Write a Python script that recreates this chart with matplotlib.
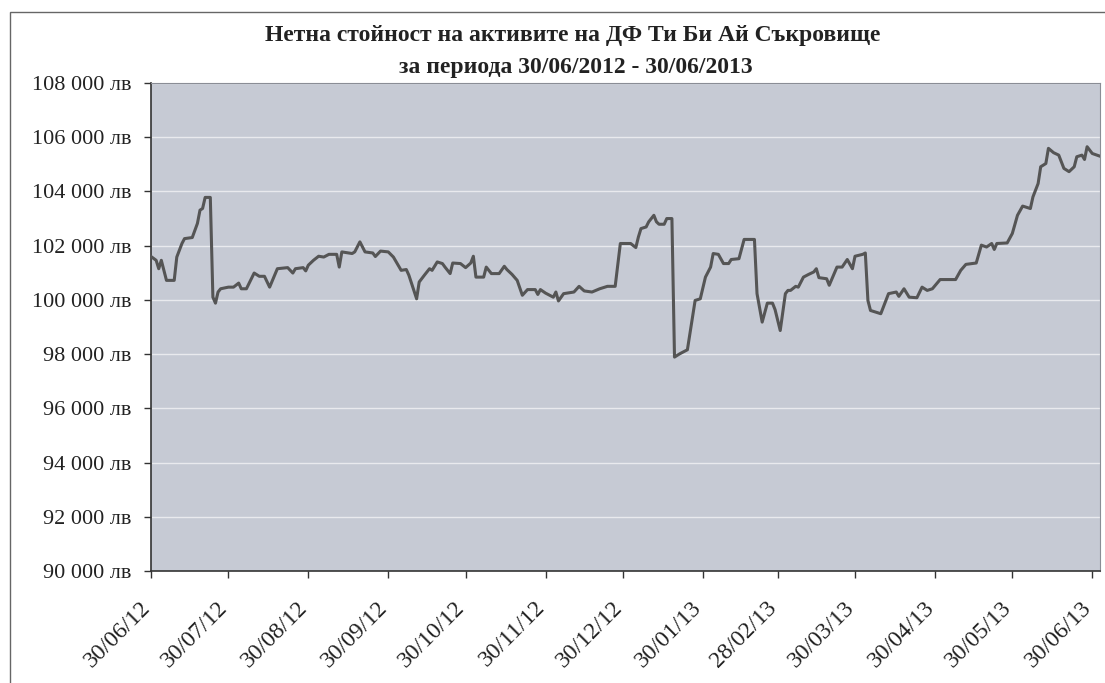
import matplotlib
matplotlib.use("Agg")
import matplotlib.pyplot as plt
import matplotlib.transforms as mtransforms
from matplotlib.patches import Rectangle
import pandas as pd

# ---- data ----
start_date = "2012-06-30"
day_offsets = [0, 2, 3, 4, 5, 6, 9, 10, 12, 13, 16, 18, 19, 20, 21, 23, 24, 25, 26, 27,
               30, 32, 34, 35, 37, 40, 42, 44, 46, 49, 53, 55, 56, 59, 60, 61, 63, 65, 67, 69,
               72, 73, 74, 78, 79, 81, 83, 86, 87, 89, 92, 94, 97, 99, 100, 103, 104, 106, 108, 109,
               111, 113, 114, 116, 117, 120, 122, 124, 125, 126, 129, 130, 132, 135, 137, 138, 140, 142, 144, 146,
               149, 150, 151, 153, 156, 157, 158, 160, 164, 166, 168, 171, 174, 177, 180, 182, 186, 188, 189, 190,
               192, 193, 195, 196, 197, 199, 200, 202, 203, 205, 208, 210, 211, 213, 215, 217, 218, 220, 222, 224,
               225, 228, 230, 234, 235, 237, 239, 241, 242, 244, 246, 247, 248, 250, 251, 253, 255, 257, 258, 259,
               262, 263, 266, 268, 270, 272, 273, 276, 277, 278, 279, 283, 285, 286, 289, 290, 292, 294, 297, 299,
               301, 303, 306, 312, 314, 316, 320, 322, 324, 326, 327, 328, 332, 334, 336, 338, 341, 342, 344, 345,
               347, 348, 350, 352, 354, 356, 358, 359, 361, 362, 363, 365, 368]
nav_values = [101600, 101460, 101150, 101460, 101090, 100720, 100720, 101580, 102080, 102260,
              102300, 102820, 103310, 103370, 103780, 103780, 100100, 99880, 100290, 100410,
              100470, 100470, 100620, 100410, 100410, 100990, 100870, 100870, 100470, 101150,
              101190, 100990, 101150, 101190, 101070, 101280, 101460, 101610, 101580, 101680,
              101680, 101210, 101770, 101710, 101770, 102140, 101770, 101730, 101600, 101800,
              101770, 101580, 101090, 101120, 100910, 100040, 100660, 100910, 101150, 101090,
              101400, 101340, 101210, 100970, 101360, 101340, 101190, 101360, 101610, 100840,
              100840, 101210, 100970, 100970, 101240, 101120, 100940, 100720, 100170, 100380,
              100380, 100200, 100380, 100250, 100100, 100290, 99960, 100230, 100290, 100500,
              100330, 100290, 100410, 100500, 100500, 102080, 102080, 101930, 102320, 102630,
              102690, 102880, 103120, 102880, 102790, 102790, 103000, 103000, 97890, 98010,
              98160, 99370, 99980, 100040, 100840, 101210, 101710, 101680, 101340, 101340,
              101490, 101520, 102230, 102230, 100230, 99180, 99880, 99880, 99640, 98870,
              100230, 100350, 100350, 100500, 100470, 100840, 100940, 101030, 101150, 100820,
              100780, 100540, 101210, 101210, 101490, 101150, 101610, 101680, 101730, 99980,
              99610, 99490, 99980, 100230, 100290, 100130, 100410, 100100, 100080, 100470,
              100350, 100410, 100750, 100750, 101090, 101310, 101360, 102020, 101950, 102080,
              101860, 102080, 102100, 102450, 103120, 103460, 103370, 103800, 104290, 104910,
              105030, 105590, 105430, 105340, 104850, 104730, 104910, 105280, 105340, 105180,
              105650, 105400, 105300]
tick_dates = ["2012-06-30", "2012-07-30", "2012-08-30", "2012-09-30", "2012-10-30",
              "2012-11-30", "2012-12-30", "2013-01-30", "2013-02-28", "2013-03-30",
              "2013-04-30", "2013-05-30", "2013-06-30"]
tick_labels = ["30/06/12", "30/07/12", "30/08/12", "30/09/12", "30/10/12", "30/11/12",
               "30/12/12", "30/01/13", "28/02/13", "30/03/13", "30/04/13", "30/05/13", "30/06/13"]
y_ticks = [90000, 92000, 94000, 96000, 98000, 100000, 102000, 104000, 106000, 108000]
title_line1 = "Нетна стойност на активите на ДФ Ти Би Ай Съкровище"
title_line2 = "за периода 30/06/2012 - 30/06/2013"

dates = pd.Timestamp(start_date) + pd.to_timedelta(day_offsets, unit="D")

plt.rcParams["font.family"] = ["Liberation Serif", "DejaVu Serif"]

fig = plt.figure(figsize=(11.05, 6.83), dpi=100)
fig.patch.set_facecolor("white")

ax = fig.add_axes([151 / 1105, 1 - 571 / 683, (1100 - 151) / 1105, (571 - 83) / 683])
ax.set_facecolor("#C6CAD4")

ax.plot(dates, nav_values, color="#555555", linewidth=2.2, zorder=3)

ax.set_ylim(90000, 108000)
ax.set_yticks(y_ticks)
ax.set_yticklabels([f"{v:,.0f}".replace(",", " ") + " лв" for v in y_ticks])
ax.yaxis.grid(True, color="#E9EAEE", linewidth=1.0)
ax.set_axisbelow(True)

ax.set_xlim(pd.Timestamp("2012-06-30"), pd.Timestamp("2013-07-03"))
ax.set_xticks(pd.to_datetime(tick_dates))
ax.set_xticklabels(tick_labels, rotation=45, ha="right", va="center", rotation_mode="anchor")

ax.tick_params(axis="both", direction="out", length=5, width=1, color="#333333",
               labelcolor="#222222")
ax.tick_params(axis="x", pad=19, labelsize=17)
ax.tick_params(axis="y", pad=9, labelsize=16)

shift = mtransforms.ScaledTranslation(-4 / 100, 0, fig.dpi_scale_trans)
for lbl in ax.get_xticklabels():
    lbl.set_transform(lbl.get_transform() + shift)

for side in ["left", "bottom"]:
    ax.spines[side].set_color("#333333")
    ax.spines[side].set_linewidth(1.2)
for side in ["top", "right"]:
    ax.spines[side].set_color("#8A8D95")
    ax.spines[side].set_linewidth(0.8)

fig.text(573 / 1105, 1 - 35 / 683, title_line1, ha="center", va="center",
         fontsize=17, fontweight="bold", color="#222222")
fig.text(576 / 1105, 1 - 67 / 683, title_line2, ha="center", va="center",
         fontsize=17, fontweight="bold", color="#222222")

# outer chart-area border
fig.add_artist(Rectangle((10 / 1105, -0.01), 1.02, 1 - 12 / 683 + 0.01,
                         transform=fig.transFigure, fill=False,
                         edgecolor="#666666", linewidth=1.0))

fig.savefig("out.png", dpi=100)
